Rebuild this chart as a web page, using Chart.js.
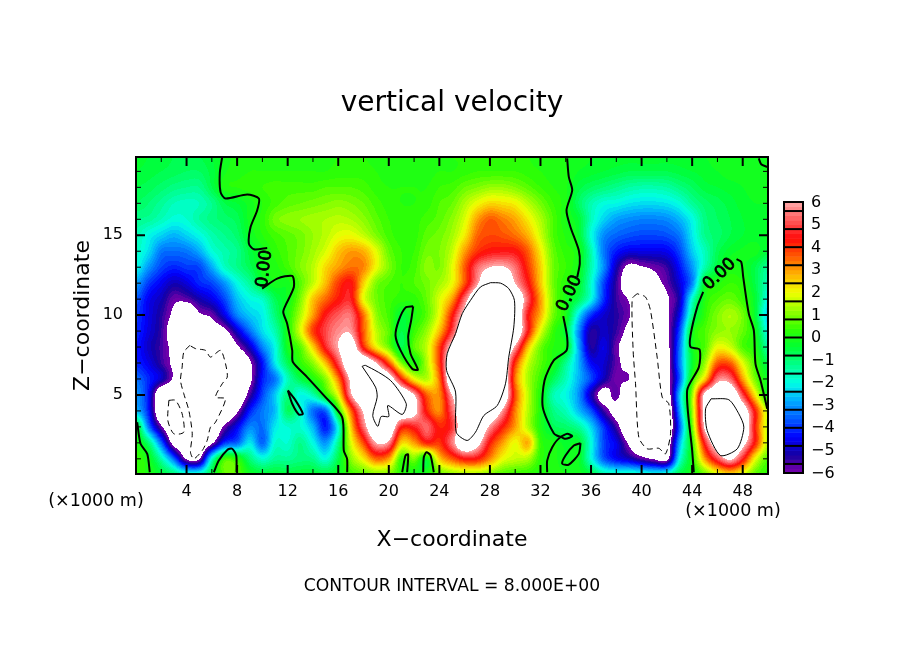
<!DOCTYPE html>
<html>
<head>
<meta charset="utf-8">
<title>vertical velocity</title>
<script src="https://cdn.jsdelivr.net/npm/chart.js@4"></script>
<style>
  html, body { margin: 0; padding: 0; background: #fff; }
  canvas { display: block; }
</style>
</head>
<body>
<canvas id="myChart" width="904" height="654"></canvas>
<script>
// vertical velocity, one row per km of height, x = 0..50 km
const w20 = [-.3,-.4,-.5,-.6,-.6,-.6,-.4,-.1,.05,.1, .1,.1,.1,.1,.1,.1,.2,.2,.2,.1, .1,.1,.1,.1,.1,.2,.2,.2,.2,.2, .2,.2,.1,.1,0,-.1,-.2,-.3,-.3,-.3, -.3,-.3,-.3,-.3,-.2,-.2,-.1,-.1,-.1,-.05, -.1]
const w19 = [-.4,-.5,-.6,-.7,-.8,-.8,-.5,-.05,.1,.2, .2,.2,.2,.2,.2,.2,.3,.3,.3,.2, .1,.1,.1,.1,.2,.2,.3,.4,.4,.4, .4,.3,.2,.1,.03,-.2,-.3,-.4,-.5,-.6, -.6,-.6,-.6,-.5,-.4,-.3,-.2,-.1,-.1,-.02, -.1]
const w18 = [-.6,-.7,-.9,-1.1,-1.2,-1.2,-.6,.1,.2,.3, .4,.5,.5,.5,.5,.6,.6,.6,.5,.3, .2,.2,.2,.2,.4,.5,.8,1,1.2,1.2, 1,.7,.4,.2,.05,-.5,-.8,-1,-1.2,-1.4, -1.5,-1.5,-1.4,-1.1,-.8,-.5,-.4,-.3,-.2,-.1, -.1]
const w17 = [-.8,-1,-1.3,-1.6,-1.7,-1.6,-1.2,-.6,-.4,-.1, .2,.5,.7,.8,.9,1,1.1,1,.8,.5, .3,.2,.2,.3,.6,.8,1.4,2,2.4,2.3, 2.1,1.5,.9,.4,.05,-.8,-1.5,-1.9,-2,-2.2, -2.3,-2.3,-2.2,-1.9,-1.3,-.9,-.7,-.5,-.3,-.2, -.2]
const w16 = [-1.2,-1.3,-1.6,-1.9,-1.8,-1.4,-1.1,-.9,-.7,-.1, .3,.9,1.1,1.2,1.3,1.4,1.5,1.4,1.1,.7, .4,.3,.3,.5,.7,1.1,1.8,3,3.6,3.3, 2.9,2.2,1.4,.6,0,-.4,-1.6,-2.4,-2.9,-3.1, -3.2,-3.2,-3.1,-2.7,-2,-1.1,-.8,-.6,-.4,-.3, -.3]
const w15 = [-1.5,-2,-2.4,-2.7,-2.4,-2,-1.5,-1.2,-.9,-.2, .2,.5,.7,.9,1.2,1.5,1.9,2,1.6,1, .5,.3,.3,.7,.9,1.3,2.2,3.5,3.8,3.7, 3.4,2.8,1.7,.6,.15,-.3,-1.9,-3.1,-3.5,-3.7, -3.8,-3.8,-3.7,-3.3,-2.2,-1.2,-.9,-.6,-.4,-.3, -.4]
const w14 = [-1.7,-2.3,-3.3,-3.4,-3.3,-2.8,-1.9,-1.5,-1.2,-.5, -.1,.3,.6,.9,1.3,1.8,2.6,3,2.8,1.9, .8,.4,.4,.9,1,1.6,3,4,4.4,4.5, 4.4,3.6,2.2,.8,.3,0,-1.5,-3.3,-4.2,-4.6, -4.6,-4.6,-4.5,-3.8,-2.5,-1.6,-.7,-.3,-.15,-.1, -.5]
const w13 = [-2,-3,-3.8,-4.1,-3.9,-3.8,-2.8,-1.7,-1.2,-.7, -.1,.1,.5,1,1.5,2.4,3,3.4,3.2,2, 1,.4,.5,1.1,1,1.9,3.6,5.3,6,6.1, 5.4,4,2.5,.9,.4,-.1,-1.5,-3.1,-5,-6.3, -6.1,-5.8,-5.4,-4.3,-3,-1.5,-.5,.05,-.1,-.6, -1.3]
const w12 = [-2.9,-3.9,-4.5,-5,-4.7,-4.1,-3.8,-3,-2,-1.3, -.4,-.05,-.1,.7,1.6,2.7,3.9,4.4,2.5,1, .6,.4,.6,.9,1.3,2,3.7,5.8,8,7.5, 6,4.5,2.6,.9,.2,-.3,-1.8,-3.8,-5.4,-7, -7.5,-6.5,-5.7,-4.7,-3.2,-.3,.1,.4,.2,-.6, -1.6]
const w11 = [-3.6,-4.5,-5,-5.8,-5.7,-5.1,-4.6,-3.8,-2.6,-2, -1.7,-.7,-.1,1,2.6,3.5,4.3,4.6,2,.9, .5,.3,.3,.8,1.8,3,5.4,7.5,9,9.5, 7.4,5.2,3,1,0,-.7,-2,-4,-5.4,-6.1, -7.5,-7.5,-6.2,-5,-1.8,.1,.6,.8,.4,-.4, -2]
const w10 = [-3.9,-4.6,-5.3,-6.3,-7.5,-6.2,-5.8,-4.6,-3.2,-2.5, -2.1,-1,.1,1.4,3,4.5,5.2,5.4,3.4,1.2, .5,-.4,.1,.7,2,4.2,6.5,8.5,10,10, 8.5,4.5,2.8,.9,0,-2.2,-4,-4.8,-5.3,-5.9, -7,-7.5,-6.2,-4.5,-1.2,.3,1,1.4,.9,-.4, -2.5]
const w9 = [-4,-4.7,-5.4,-6.8,-9,-9,-6.8,-6.3,-4.8,-3.4, -2.3,-1.5,.05,1.8,3.9,5,5.7,5.8,3.6,1.6, .7,-.6,.4,1.2,2.7,4.9,8.5,9.5,10,10, 8.5,4.5,1.9,.4,-.5,-3,-5.2,-4.9,-5.4,-6.4, -7.5,-8,-6.3,-3.8,-.2,.6,1.1,1.2,.8,-.1, -2]
const w8 = [-4.2,-4.9,-5.5,-6.4,-10,-10,-10,-8.5,-6.2,-4.9, -3.2,-2,-.1,.7,2.5,4.6,6,7,4.2,2.2, .9,-.6,.7,1.6,3.8,6.5,9,10,10.5,10, 5.8,2.7,.9,.2,-.1,-2.8,-5.2,-4.6,-5.8,-6.8, -8,-8.5,-6.5,-3.4,-.2,.6,2,1.7,.6,.1, -1.4]
const w7 = [-4.1,-4.6,-5.4,-6.3,-11,-11,-11,-10,-8,-6.2, -4.3,-2.2,-.7,.3,1.1,2.7,5,9,9,6, 3.8,1,.1,1.4,3.9,8.5,10,10.5,11,9.5, 4,1.7,.7,0,-1.2,-2.7,-4.4,-4.8,-5.7,-6.6, -8.6,-8.7,-6.6,-3.3,-.4,1.2,3.6,3.6,1.9,.5, -.7]
const w6 = [-3.4,-4.1,-4.9,-6.2,-10.5,-11,-11,-10,-8.6,-6.3, -4.2,-3.3,-1.6,-.6,.1,1.1,3.3,6.3,8.5,8.5, 7,4.3,2.1,1.5,3.4,8.3,10,10.5,10.7,8.2, 3.4,1.4,.4,-.7,-1.6,-2.7,-3.8,-5,-5.9,-6, -8,-8.8,-6.6,-3.6,.2,2.5,5.5,5.4,3,.9, -.2]
const w5 = [-3,-4.3,-7.5,-7.5,-9,-11,-11,-10,-8.3,-5.5, -3.8,-2.5,-1.1,-2,-1.5,.1,2,5.8,8.5,9, 8.5,8.5,6,3.6,3.2,6,10,10.5,10.5,8.3, 3.8,1.6,.1,-1.5,-2,-3,-5,-6.6,-5.7,-7.5, -9,-9.5,-7,-2.6,1.2,6.4,7.8,8,5,2.2, -.2]
const w4 = [-2.6,-4.2,-7.5,-10,-10,-10,-10,-9,-6.2,-4.2, -3.3,-2.6,-.8,-1.7,-3.4,-3.5,0,3.5,6.2,9, 8.5,8.2,6.5,4.2,3.2,5.3,9.5,9.5,8.2,5.8, 3.3,1.5,.1,-1.1,-1.6,-2.6,-3.7,-5.4,-6.6,-8, -9.5,-9.5,-8,-3,1.2,6.5,9.5,9.5,7,4.2, 1.5]
const w3 = [-.1,-3.3,-5.8,-8.8,-8.6,-8.5,-8,-5.8,-4.5,-3.2, -3.4,-2.2,-1.8,-1.8,-2.7,-4.2,-1.9,2.5,5.4,8.5, 7.5,4.5,4.6,5.3,4.2,4.8,9,7.8,5.8,4.3, 3,1.5,.1,-.7,-.9,-1.3,-2.4,-4,-5.5,-7.4, -9.5,-9.5,-8.2,-3.6,.8,6.2,9.5,10,7.5,4.2, 1.5]
const w2 = [.1,-1,-3.5,-6.5,-7.2,-8,-6.2,-4,-3.5,-2.2, -3.5,-1.8,-1.8,-1.2,-2,-3,-1.2,1.8,3.8,6, 5.7,2.5,3,4.2,4,5.5,7.5,6.5,4.3,3, 2,2.8,.4,.05,-.3,-.3,-1.9,-3.8,-4.6,-6.2, -9,-8.5,-7,-2.8,.3,4.6,7,8,6.5,4.2, 1.5]
const w1 = [.4,-.1,-1.5,-3.5,-6.1,-6.1,-1.8,.4,.2,-1, -1.8,-1.3,-1.3,-1.1,-1.2,-1.9,-.6,1.1,2.2,3.5, 3,.4,1,-.2,2.5,3.6,4.4,4.3,3.2,2, 1.6,1.4,.3,.1,-.2,-.2,-1.9,-3.6,-4.4,-4.9, -5.6,-6.1,-6.3,-2,.1,3,5,6.2,4.6,2, .6]
const w0 = [.4,.1,-.4,-1,-1.6,-1.6,-.5,.8,.7,-.1, -.4,-.4,-.5,-.4,-.4,-.5,-.2,.4,.7,1, .9,.3,-.1,.1,.7,1.1,1.3,1.3,1,.6, .4,.3,.1,.1,0,-.1,-.5,-1.4,-1.6,-1.6, -1.7,-1.8,-1.6,-.6,0,.8,1.8,2.4,1.8,.7, .3]
const velocity = [w0, w1, w2, w3, w4, w5, w6, w7, w8, w9, w10, w11, w12, w13, w14, w15, w16, w17, w18, w19, w20]

// colour bar
const colorValues = [-6, -5.8, -5.2, -4.4, -3.6, -2.8, -2, -1.2, -.4, .4, 1.2, 2, 2.8, 3.6, 4.4, 5.2, 6]
const colorRgb = [[110,0,170],[110,0,170],[20,0,160],[0,0,255],[0,90,255],[0,170,255],[0,255,230],[0,255,140],[0,255,50],[50,255,0],[150,255,0],[240,255,0],[255,180,0],[255,90,0],[255,10,10],[255,90,90],[255,170,170]]
const colorbarEdges = [-6, -5.6, -4.8, -4, -3.2, -2.4, -1.6, -.8, 0, .8, 1.6, 2.4, 3.2, 4, 4.8, 5.6, 6]
const colorbarLabels = [-6, -5, -4, -3, -2, -1, 0, 1, 2, 3, 4, 5, 6]

// contours, [x km, z km]
const zeroMain = [[6.82,19.9],[6.63,18.9],[6.69,17.7],[7.08,17.3],[8.8,17.55],[9.72,17.3],[9.59,16.57],[9.06,15.5],[8.93,14.48],[9.32,14.12],[10.38,14.2]]
const zeroMain2 = [[9.98,11.66],[11.17,12.28],[12.36,12.45],[12.49,11.76],[11.83,10.61],[11.65,10.19],[11.96,9.46],[12.36,7.79],[12.41,7.06],[13.54,6.12],[14.86,4.97],[16.31,3.61],[16.44,1.52],[16.7,1],[16.71,.16]]
const zeroCorner = [[.09,3.29],[.36,1.94],[.89,1.31],[1.09,.16]]
const zeroBlobA = [[6.16,.16],[6.55,.89],[7.22,1.56],[7.61,1.63],[7.93,1.21],[7.95,.16]]
const zeroLensA = [[12.01,5.28],[12.62,4.66],[13.2,3.82],[12.88,3.78],[12.36,4.45],[12.01,5.28]]
const zeroLensB = [[21.93,10.55],[21.32,10.47],[20.79,9.67],[20.53,8.73],[20.93,7.79],[21.85,6.64],[22.3,6.58],[21.72,7.58],[21.53,8.62],[21.77,9.67],[21.93,10.55]]
const zeroBlobB = [[21.06,.16],[21.32,1.21],[21.53,1.27],[21.45,.16]]
const zeroBlobC = [[22.72,.16],[22.77,1.1],[22.98,1.41],[23.3,1.21],[23.56,.16]]
const zeroMid = [[34.11,19.81],[34.24,18.65],[34.51,17.82],[34.06,16.57],[34.37,15.52],[35.03,14.06],[35.11,13.22],[34.91,12.38]]
const zeroMid2 = [[33.8,9.94],[34.11,8.62],[34.06,7.79],[33.05,7.16],[32.32,5.91],[32.18,4.24],[33.05,2.6],[33.58,2.39],[34.11,2.57],[34.51,2.42],[33.98,2.25],[33.58,2.35],[32.93,1.73],[32.53,.89],[32.53,.16]]
const zeroLensC = [[35.17,1.98],[34.64,1.83],[33.98,1.21],[33.72,.69],[34.24,.64],[35.03,1.31],[35.17,1.98]]
const zeroRight = [[44.13,.16],[44,1.52],[43.6,5.28],[44.53,6.74],[44.58,7.85],[43.87,8],[43.87,8.73],[44.4,10.5],[44.87,11.45]]
const zeroRight2 = [[47.51,13.5],[47.88,13.33],[48.04,12.38],[48.48,10.09],[48.88,9.04],[49.01,6.95],[49.41,5.91],[49.94,4.13]]
const zeroTopRight = [[49.27,19.81],[49.46,19.45],[49.94,19.28]]
const minusBig = [[4.26,8.1],[3.78,7.68],[3.65,6.74],[3.52,5.91],[3.78,5.08],[4.18,4.03],[4.45,2.57],[4.31,1.41],[4.57,1],[5.24,1.52],[5.63,2.15],[5.89,2.98],[6.29,3.29],[7.08,4.76],[6.29,4.86],[6.82,5.7],[7.22,6.12],[7.08,6.96],[6.69,7.79],[5.89,7.37],[5.5,7.79],[4.71,7.9],[4.26,8.1]]
const minusSmall = [[2.6,4.66],[2.52,3.4],[2.99,2.57],[3.78,2.67],[3.65,3.82],[3.13,4.66],[2.6,4.66]]
const minusRight = [[39.65,11.34],[39.26,11.03],[39.33,7.79],[39.52,5.7],[39.78,2.35],[40.44,1.63],[41.36,1.66],[41.89,1.31],[42.29,2.57],[42.15,4.45],[41.63,4.86],[41.23,7.37],[40.7,10.3],[40.31,11.13],[39.65,11.34]]
const plusCenter = [[28.05,12.03],[27.25,11.76],[26.46,10.92],[25.81,10.09],[25.28,8.84],[24.62,7.58],[24.57,6.54],[25.28,5.18],[25.33,2.67],[26.2,2.15],[26.86,2.67],[27.52,3.71],[28.58,4.34],[29.23,5.7],[29.49,7.37],[29.89,9.25],[29.94,10.92],[29.49,11.66],[28.84,12],[28.05,12.03]]
const plusLeft = [[17.89,6.79],[18.95,5.49],[19.08,4.86],[18.73,3.71],[19.13,3.03],[19.4,3.65],[20,3.65],[19.92,4.34],[21.06,3.78],[21.38,4.45],[20.13,5.91],[18.16,6.85],[17.89,6.79]]
const plusRight = [[45.5,4.76],[45.06,4.13],[45.19,2.77],[46.24,1.21],[47.57,1.63],[48.09,2.98],[47.69,3.82],[46.9,4.7],[45.5,4.76]]

const zeroLines = [zeroMain, zeroMain2, zeroCorner, zeroBlobA, zeroLensA, zeroLensB, zeroBlobB, zeroBlobC, zeroMid, zeroMid2, zeroLensC, zeroRight, zeroRight2, zeroTopRight]
const dashedLines = [minusBig, minusSmall, minusRight]
const thinLines = [plusCenter, plusLeft, plusRight]

// "0.00" labels along the zero line: x, z, angle in degrees
const zeroLabels = [[10.17, 12.9, -83], [34.3, 11.35, -65], [46.17, 12.55, -43]]

const FONT = '"DejaVu Sans"'
const CB = { left: 784, right: 803, top: 202, bottom: 473 }

function colorFor(v) {
  const q = Math.floor(v / 0.2) * 0.2 + 0.1
  let i = 0
  while (i < colorValues.length - 2 && q > colorValues[i + 1]) i++
  const t = Math.min(1, Math.max(0, (q - colorValues[i]) / (colorValues[i + 1] - colorValues[i])))
  const a = colorRgb[i], b = colorRgb[i + 1]
  return [a[0] + (b[0] - a[0]) * t, a[1] + (b[1] - a[1]) * t, a[2] + (b[2] - a[2]) * t]
}

function cell(r, c) {
  const row = velocity[Math.max(0, Math.min(velocity.length - 1, r))]
  const v = row[Math.max(0, Math.min(row.length - 1, c))]
  return Math.max(-7.5, Math.min(7.5, v))
}

function cubic(p0, p1, p2, p3, t) {
  return p1 + 0.5 * t * (p2 - p0 + t * (2 * p0 - 5 * p1 + 4 * p2 - p3 + t * (3 * (p1 - p2) + p3 - p0)))
}

function sample(x, z) {
  const c = Math.floor(x), r = Math.floor(z)
  const tx = x - c, tz = z - r
  const rows = []
  for (let j = -1; j <= 2; j++) {
    rows.push(cubic(cell(r + j, c - 1), cell(r + j, c), cell(r + j, c + 1), cell(r + j, c + 2), tx))
  }
  return cubic(rows[0], rows[1], rows[2], rows[3], tz)
}

const fieldPlugin = {
  id: 'field',
  beforeDatasetsDraw(chart) {
    const { ctx, chartArea: a, scales } = chart
    const w = Math.round(a.right - a.left), h = Math.round(a.bottom - a.top)
    const off = document.createElement('canvas')
    off.width = w
    off.height = h
    const octx = off.getContext('2d')
    const img = octx.createImageData(w, h)
    for (let py = 0; py < h; py++) {
      const z = scales.y.getValueForPixel(a.top + py + 0.5)
      for (let px = 0; px < w; px++) {
        const x = scales.x.getValueForPixel(a.left + px + 0.5)
        const v = sample(x, z)
        const rgb = Math.abs(v) > 6 ? [255, 255, 255] : colorFor(v)
        const k = (py * w + px) * 4
        img.data[k] = rgb[0]
        img.data[k + 1] = rgb[1]
        img.data[k + 2] = rgb[2]
        img.data[k + 3] = 255
      }
    }
    octx.putImageData(img, 0, 0)
    ctx.drawImage(off, a.left, a.top)
  }
}

const framePlugin = {
  id: 'frame',
  afterDatasetsDraw(chart) {
    const { ctx, chartArea: a, scales } = chart
    ctx.save()
    ctx.strokeStyle = '#000'
    scales.x.ticks.forEach(t => {
      const px = scales.x.getPixelForValue(t.value)
      const major = t.value % 4 === 0
      const len = major ? 9 : 5
      ctx.lineWidth = major ? 2 : 1
      ctx.beginPath()
      ctx.moveTo(px, a.top); ctx.lineTo(px, a.top + len)
      ctx.moveTo(px, a.bottom); ctx.lineTo(px, a.bottom - len)
      ctx.stroke()
    })
    scales.y.ticks.forEach(t => {
      const py = scales.y.getPixelForValue(t.value)
      const major = t.value % 5 === 0
      const len = major ? 9 : 5
      ctx.lineWidth = major ? 2 : 1
      ctx.beginPath()
      ctx.moveTo(a.left, py); ctx.lineTo(a.left + len, py)
      ctx.moveTo(a.right, py); ctx.lineTo(a.right - len, py)
      ctx.stroke()
    })
    ctx.lineWidth = 2
    ctx.strokeRect(a.left, a.top, a.right - a.left, a.bottom - a.top)

    // 0.00 labels sit on a gap in the zero line
    ctx.fillStyle = '#000'
    ctx.font = '17px ' + FONT
    ctx.textAlign = 'center'
    ctx.textBaseline = 'middle'
    ctx.lineWidth = 0.8
    zeroLabels.forEach(l => {
      ctx.save()
      ctx.translate(scales.x.getPixelForValue(l[0]), scales.y.getPixelForValue(l[1]))
      ctx.rotate(l[2] * Math.PI / 180)
      ctx.fillText('0.00', 0, 0)
      ctx.strokeText('0.00', 0, 0)
      ctx.restore()
    })

    // colour bar
    const cbY = v => CB.bottom - (v + 6) / 12 * (CB.bottom - CB.top)
    for (let v = -6; v < 5.999; v += 0.2) {
      const rgb = colorFor(v + 0.1)
      ctx.fillStyle = `rgb(${rgb[0]},${rgb[1]},${rgb[2]})`
      ctx.fillRect(CB.left, cbY(v + 0.2), CB.right - CB.left, cbY(v) - cbY(v + 0.2) + 0.5)
    }
    ctx.strokeStyle = '#000'
    ctx.lineWidth = 2
    colorbarEdges.forEach(v => {
      ctx.beginPath()
      ctx.moveTo(CB.left, cbY(v)); ctx.lineTo(CB.right, cbY(v))
      ctx.stroke()
    })
    ctx.strokeRect(CB.left, CB.top, CB.right - CB.left, CB.bottom - CB.top)
    ctx.fillStyle = '#000'
    ctx.font = '16px ' + FONT
    ctx.textAlign = 'left'
    colorbarLabels.forEach(v => {
      ctx.fillText(String(v).replace('-', '\u2212'), 811, cbY(v) + 0.5)
    })

    // title and notes
    ctx.textAlign = 'center'
    ctx.font = '28px ' + FONT
    ctx.fillText('vertical velocity', 452, 104)
    ctx.font = '17.2px ' + FONT
    ctx.fillText('CONTOUR INTERVAL = 8.000E+00', 452, 587)
    ctx.font = '17.5px ' + FONT
    ctx.fillText('(\u00d71000 m)', 96, 501)
    ctx.fillText('(\u00d71000 m)', 733, 511)
    ctx.restore()
  }
}

const toPoints = line => line.map(p => ({ x: p[0], y: p[1] }))
const lineSet = (line, width, dash) => ({
  data: toPoints(line),
  showLine: true,
  pointRadius: 0,
  borderColor: '#000',
  borderWidth: width,
  borderDash: dash,
  tension: 0.25,
  fill: false
})

const datasets = [
  ...zeroLines.map(l => lineSet(l, 2, [])),
  ...dashedLines.map(l => lineSet(l, 1, [6, 4])),
  ...thinLines.map(l => lineSet(l, 1, []))
]

new Chart(document.getElementById('myChart'), {
  type: 'scatter',
  data: { datasets },
  plugins: [fieldPlugin, framePlugin],
  options: {
    responsive: false,
    animation: false,
    devicePixelRatio: 1,
    layout: { padding: { left: 70, right: 136, top: 157, bottom: 101 } },
    plugins: { legend: { display: false }, tooltip: { enabled: false } },
    scales: {
      x: {
        type: 'linear',
        min: 0,
        max: 50,
        grid: { display: false, drawTicks: false },
        border: { display: false },
        afterFit(scale) { scale.height = 79 },
        title: { display: true, text: 'X\u2212coordinate', color: '#000', font: { family: FONT, size: 22 }, padding: 0 },
        ticks: {
          stepSize: 2,
          includeBounds: false,
          autoSkip: false,
          maxRotation: 0,
          padding: 8,
          color: '#000',
          font: { family: FONT, size: 16 },
          callback: v => (v > 0 && v % 4 === 0 ? String(v) : '')
        }
      },
      y: {
        type: 'linear',
        min: 0.05,
        max: 19.9,
        grid: { display: false, drawTicks: false },
        border: { display: false },
        afterFit(scale) { scale.width = 66 },
        title: { display: true, text: 'Z\u2212coordinate', color: '#000', font: { family: FONT, size: 22 }, padding: 0 },
        ticks: {
          stepSize: 1,
          includeBounds: false,
          autoSkip: false,
          padding: 13,
          color: '#000',
          font: { family: FONT, size: 16 },
          callback: v => (v % 5 === 0 ? String(v) : '')
        }
      }
    }
  }
})
</script>
</body>
</html>
